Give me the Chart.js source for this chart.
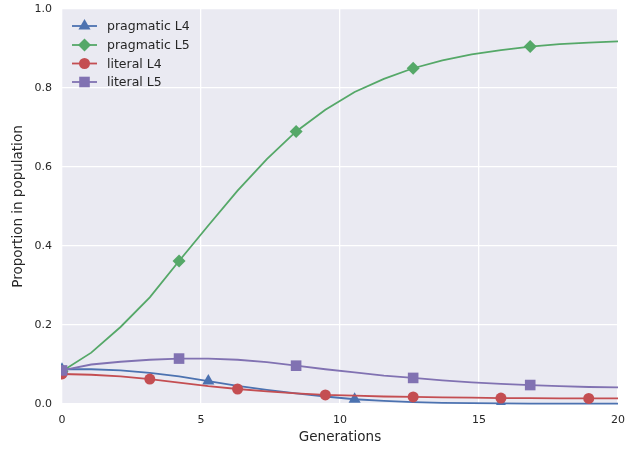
<!DOCTYPE html>
<html>
<head>
<meta charset="utf-8">
<script src="https://cdn.jsdelivr.net/npm/chart.js@4"></script>
<style>
html,body{margin:0;padding:0;background:#fff;}
#wrap{width:643px;height:450px;}
</style>
</head>
<body>
<div id="wrap"><canvas id="c" width="643" height="450"></canvas></div>
<script>
// Generations: 20 samples evenly spaced from 0 to 20
const generations = [0,1.0526,2.1053,3.1579,4.2105,5.2632,6.3158,7.3684,8.4211,9.4737,10.5263,11.5789,12.6316,13.6842,14.7368,15.7895,16.8421,17.8947,18.9474,20];
const pragmaticL4 = [0.088,0.088,0.085,0.079,0.070,0.058,0.046,0.036,0.027,0.019,0.012,0.008,0.005,0.003,0.002,0.0015,0.001,0.001,0.0008,0.0007];
const pragmaticL5 = [0.083,0.130,0.195,0.270,0.362,0.452,0.540,0.620,0.690,0.745,0.790,0.823,0.850,0.870,0.885,0.896,0.905,0.911,0.915,0.918];
const literalL4 = [0.076,0.074,0.070,0.063,0.054,0.045,0.038,0.032,0.027,0.023,0.021,0.019,0.018,0.017,0.016,0.015,0.015,0.014,0.014,0.014];
const literalL5 = [0.085,0.100,0.107,0.112,0.115,0.115,0.112,0.106,0.097,0.088,0.080,0.072,0.066,0.060,0.055,0.051,0.048,0.045,0.043,0.042];
const xTicks = [0,5,10,15,20];
const yTicks = [0,0.2,0.4,0.6,0.8,1.0];
const seriesNames = ['pragmatic L4','pragmatic L5','literal L4','literal L5'];

const colors = ['#4C72B0','#55A868','#C44E52','#8172B2'];
const markers = ['triangle','rectRot','circle','rect'];
const markSizes = [7,6.5,5.5,7.5];
const markEvery = [5,4,3,4];
const seriesData = [pragmaticL4, pragmaticL5, literalL4, literalL5];

const datasets = seriesData.map((vals,k)=>({
  label: seriesNames[k],
  data: vals.map((v,i)=>({x: generations[i], y: v})),
  borderColor: colors[k],
  backgroundColor: colors[k],
  borderWidth: 1.8,
  pointStyle: markers[k],
  pointRadius: ctx => (ctx.dataIndex % markEvery[k] === 0 ? markSizes[k] : 0),
  pointHoverRadius: 0,
  pointBorderWidth: 0,
  pointBackgroundColor: colors[k],
  tension: 0,
  clip: 1,
  order: 4-k
}));

const font = "'DejaVu Sans', sans-serif";
const tickColor = '#262626';

const bgPlugin = {
  id: 'bg',
  beforeDraw(chart){
    const {ctx, chartArea:a} = chart;
    ctx.save();
    ctx.fillStyle = '#EAEAF2';
    ctx.fillRect(a.left, a.top, a.right-a.left, a.bottom-a.top);
    ctx.restore();
  }
};

const legendPlugin = {
  id: 'customLegend',
  afterDatasetsDraw(chart){
    const ctx = chart.ctx;
    const a = chart.chartArea;
    ctx.save();
    const rowY = [26,45,63.5,82];
    for (let k=0;k<4;k++){
      const y = rowY[k];
      ctx.strokeStyle = colors[k];
      ctx.lineWidth = 1.8;
      ctx.beginPath();
      ctx.moveTo(a.left+10, y);
      ctx.lineTo(a.left+35, y);
      ctx.stroke();
      ctx.fillStyle = colors[k];
      Chart.helpers.drawPoint(ctx, {pointStyle: markers[k], radius: markSizes[k], borderWidth: 0}, a.left+22.5, y);
      ctx.fillStyle = tickColor;
      ctx.font = "12.5px " + font;
      ctx.textBaseline = 'middle';
      ctx.textAlign = 'left';
      ctx.fillText(seriesNames[k], a.left+45, y+1);
    }
    ctx.restore();
  }
};

new Chart(document.getElementById('c'), {
  type: 'line',
  data: { datasets },
  options: {
    responsive: false,
    animation: false,
    events: [],
    layout: { padding: { top: 9, right: 25, left: 0, bottom: 0 } },
    plugins: { legend: { display: false }, tooltip: { enabled: false } },
    scales: {
      x: {
        type: 'linear', min: 0, max: 20,
        afterBuildTicks: s => { s.ticks = xTicks.map(v=>({value:v})); },
        afterFit: s => { s.height = 46; s.paddingLeft = 0; s.paddingRight = 0; },
        grid: { color: '#ffffff', lineWidth: 1.3, drawTicks: false },
        border: { display: false },
        ticks: { color: tickColor, font: { family: font, size: 11 }, padding: 10, maxRotation: 0,
                 callback: v => String(v) },
        title: { display: true, text: 'Generations', color: tickColor, font: { family: font, size: 13.5 }, padding: { top: 2, bottom: 4 } }
      },
      y: {
        type: 'linear', min: 0, max: 1,
        afterBuildTicks: s => { s.ticks = yTicks.map(v=>({value:v})); },
        afterFit: s => { s.width = 62; s.paddingTop = 0; s.paddingBottom = 0; },
        grid: { color: '#ffffff', lineWidth: 1.3, drawTicks: false },
        border: { display: false },
        ticks: { color: tickColor, font: { family: font, size: 11 }, padding: 10,
                 callback: v => Number(v).toFixed(1) },
        title: { display: true, text: 'Proportion in population', color: tickColor, font: { family: font, size: 13.5 }, padding: { top: 10, bottom: 4 } }
      }
    }
  },
  plugins: [bgPlugin, legendPlugin]
});
</script>
</body>
</html>
